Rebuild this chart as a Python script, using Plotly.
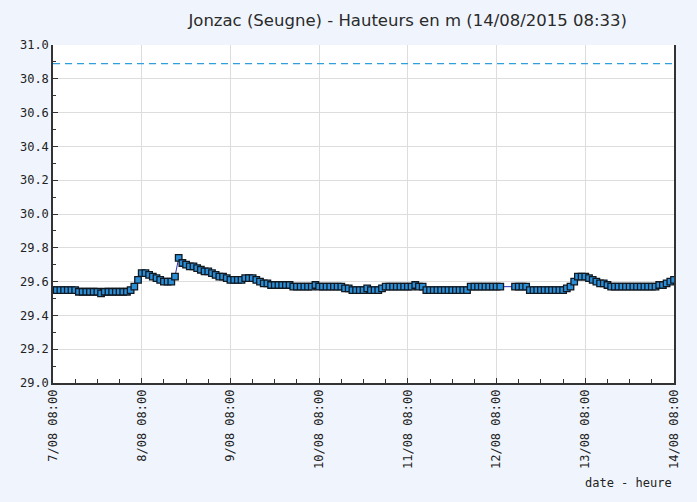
import plotly.graph_objects as go
import pandas as pd

# hourly water levels (m) from 2015-08-07 08:00; None = missing reading
levels = [
    29.55, 29.55, 29.55, 29.55, 29.55, 29.55, 29.55,            # h0-6
    29.54, 29.54, 29.54, 29.54, 29.54, 29.54, 29.53, 29.54,     # h7-14
    29.54, 29.54, 29.54, 29.54, 29.54, 29.54, 29.55,            # h15-21
    29.57, 29.61, 29.65, 29.65, 29.64, 29.63, 29.62, 29.61,     # h22-29
    29.60, 29.60, 29.60, 29.63, 29.74, 29.71, 29.70, 29.69,     # h30-37
    29.69, 29.68, 29.67, 29.66, 29.66, 29.65, 29.64, 29.63,     # h38-45
    29.63, 29.62, 29.61, 29.61, 29.61, 29.61, 29.62, 29.62,     # h46-53
    29.62, 29.61, 29.60, 29.59, 29.59, 29.58, 29.58, 29.58,     # h54-61
    29.58, 29.58, 29.58, 29.57, 29.57, 29.57, 29.57, 29.57,     # h62-69
    29.57, 29.58, 29.57, 29.57, 29.57, 29.57, 29.57, 29.57,     # h70-77
    29.57, 29.56, 29.56, 29.55, 29.55, 29.55, 29.55, 29.56,     # h78-85
    29.55, 29.55, 29.55, 29.56, 29.57, 29.57, 29.57, 29.57,     # h86-93
    29.57, 29.57, 29.57, 29.57, 29.58, 29.57, 29.57, 29.55,     # h94-101
    29.55, 29.55, 29.55, 29.55, 29.55, 29.55, 29.55, 29.55,     # h102-109
    29.55, 29.55, 29.55, 29.57, 29.57, 29.57, 29.57, 29.57,     # h110-117
    29.57, 29.57, 29.57, 29.57, None, None, None, 29.57,        # h118-125
    29.57, 29.57, 29.57, 29.55, 29.55, 29.55, 29.55, 29.55,     # h126-133
    29.55, 29.55, 29.55, 29.55, 29.55, 29.56, 29.57, 29.60,     # h134-141
    29.63, 29.63, 29.63, 29.62, 29.61, 29.60, 29.59, 29.59,     # h142-149
    29.58, 29.57, 29.57, 29.57, 29.57, 29.57, 29.57, 29.57,     # h150-157
    29.57, 29.57, 29.57, 29.57, 29.57, 29.57, 29.58, 29.58,     # h158-165
    29.59, 29.60, 29.61,                                        # h166-168
]
times = pd.date_range("2015-08-07 08:00", periods=len(levels), freq="h")
xs = [t for t, v in zip(times, levels) if v is not None]
ys = [v for v in levels if v is not None]

threshold = 30.89
tick_dates = pd.date_range("2015-08-07 08:00", "2015-08-14 08:00", freq="D")
tick_labels = ["7/08 08:00", "8/08 08:00", "9/08 08:00", "10/08 08:00",
               "11/08 08:00", "12/08 08:00", "13/08 08:00", "14/08 08:00"]
title_text = "Jonzac (Seugne) - Hauteurs en m (14/08/2015 08:33)"
x_title = "date - heure"

mono = "DejaVu Sans Mono"
bg = "#f0f5fd"
fig = go.Figure()
fig.add_trace(go.Scatter(
    x=[tick_dates[0], tick_dates[-1]], y=[threshold, threshold], mode="lines",
    line=dict(color="#2f9fe0", width=1.3, dash="7px,5px"), hoverinfo="skip"))
fig.add_trace(go.Scatter(
    x=xs, y=ys, mode="lines+markers",
    line=dict(color="#2b2bb8", width=1),
    marker=dict(symbol="square", size=6.5, color="#2b8fd8",
                line=dict(color="#101820", width=1.3))))

fig.update_layout(
    width=697, height=502, showlegend=False,
    paper_bgcolor=bg, plot_bgcolor="#ffffff",
    margin=dict(l=53, r=23, t=45, b=119, autoexpand=False),
    title=dict(text=title_text, x=0.585, xanchor="center", y=0.96, yanchor="middle",
               font=dict(family="DejaVu Sans", size=16.5, color="#2a2a2a")),
    xaxis=dict(
        type="date", range=[tick_dates[0], tick_dates[-1]],
        tickvals=list(tick_dates), ticktext=tick_labels, tickangle=-90,
        tickfont=dict(family=mono, size=12, color="#222222"),
        ticks="inside", ticklen=5, tickcolor="#333333",
        minor=dict(dtick=6 * 3600 * 1000, tick0="2015-08-07 08:00", ticks="inside",
                   ticklen=4, tickcolor="#333333", showgrid=False),
        showgrid=True, gridcolor="#dddddd", gridwidth=1,
        showline=True, linecolor="#333333", linewidth=1.5, zeroline=False,
        automargin=False,
    ),
    yaxis=dict(
        range=[29.0, 31.0], dtick=0.2, tick0=29.0, tickformat=".1f",
        tickfont=dict(family=mono, size=12, color="#222222"),
        ticks="inside", ticklen=5, tickcolor="#333333",
        minor=dict(dtick=0.1, ticks="inside", ticklen=3, tickcolor="#333333", showgrid=False),
        showgrid=True, gridcolor="#dddddd", gridwidth=1,
        showline=True, linecolor="#333333", linewidth=1.5, mirror=True, zeroline=False,
        automargin=False,
    ),
    annotations=[dict(text=x_title, xref="paper", yref="paper", x=1.0, y=-0.296,
                      xanchor="right", yanchor="middle", showarrow=False,
                      font=dict(family=mono, size=12, color="#222222"))],
)
fig.write_html("out.html", config={"displayModeBar": False},
               post_script="document.body.style.margin='0';"
                           "document.body.style.background='%s';" % bg)
